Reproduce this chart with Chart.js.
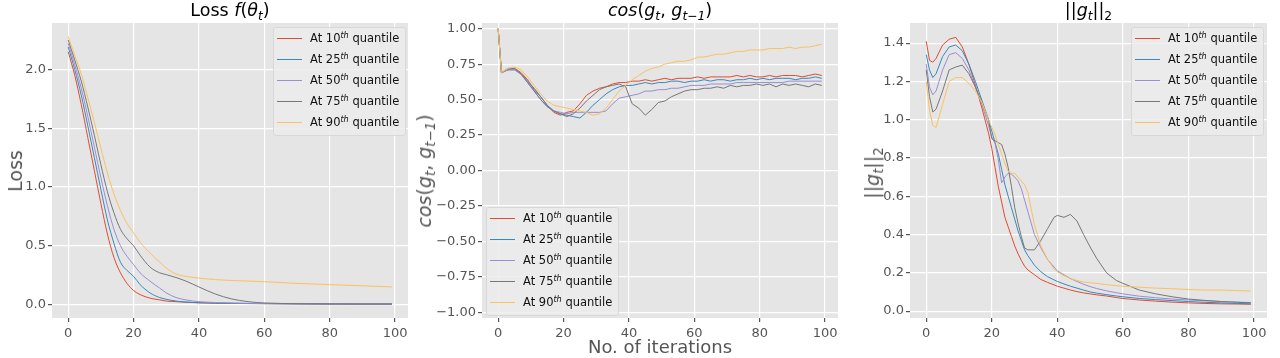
<!DOCTYPE html>
<html>
<head>
<meta charset="utf-8">
<script src="https://cdn.jsdelivr.net/npm/chart.js@4.4.1/dist/chart.umd.min.js"></script>
<style>
  body { margin: 0; background: #fff; font-family: "DejaVu Sans", sans-serif; }
  #wrap { position: relative; width: 1280px; height: 358px; overflow: hidden; }
  canvas { position: absolute; top: 0; }
  .title { position: absolute; top: 0px; text-align: center; font-size: 17.5px; color: #000; white-space: nowrap; }
  .ylab { position: absolute; font-size: 19px; color: #555; white-space: nowrap; transform: translate(-50%, -50%) rotate(-90deg); }
  .xlab { position: absolute; font-size: 18px; color: #555; white-space: nowrap; transform: translate(-50%, -50%); }
  sub { font-size: 0.7em; vertical-align: -0.3em; line-height: 0; }
  sup { font-size: 0.7em; vertical-align: 0.5em; line-height: 0; }
  .legend { position: absolute; background: rgba(236, 236, 236, 0.85); border: 1px solid #d8d8d8; border-radius: 3px;
            padding: 0 6px 2px 3px; font-size: 11.5px; color: #111; }
  .legend .row { height: 21px; line-height: 21px; white-space: nowrap; }
  .legend .swatch { display: inline-block; width: 25px; height: 0; border-top: 1.5px solid; vertical-align: middle; margin-right: 8px; }
</style>
</head>
<body>
<div id="wrap">
  <canvas id="lossChart" width="420" height="358" style="left:0px"></canvas>
  <canvas id="cosChart" width="420" height="358" style="left:430px"></canvas>
  <canvas id="normChart" width="420" height="358" style="left:860px"></canvas>

  <div class="title" style="left:52px;width:356px">Loss <i>f</i>(<i>θ<sub>t</sub></i>)</div>
  <div class="title" style="left:482px;width:356px"><i>cos</i>(<i>g<sub>t</sub></i>, <i>g<sub><i>t</i>−1</sub></i>)</div>
  <div class="title" style="left:910px;width:357px">||<i>g<sub>t</sub></i>||<sub>2</sub></div>

  <div class="ylab" style="left:15px;top:171px">Loss</div>
  <div class="ylab" style="left:424px;top:171px"><i>cos</i>(<i>g<sub>t</sub></i>, <i>g<sub><i>t</i>−1</sub></i>)</div>
  <div class="ylab" style="left:872px;top:173px">||<i>g<sub>t</sub></i>||<sub>2</sub></div>
  <div class="xlab" style="left:660px;top:346px">No. of iterations</div>

  <div class="legend" id="leg1" style="left:273px;top:27px"></div>
  <div class="legend" id="leg2" style="left:486px;top:207px"></div>
  <div class="legend" id="leg3" style="left:1131px;top:27px"></div>
</div>
<script>
const quantiles = [10, 25, 50, 75, 90];
const colors = ['#E24A33', '#348ABD', '#988ED5', '#777777', '#FBC15E'];

const xTicks = [0, 20, 40, 60, 80, 100];
const lossTicks = [0, 0.5, 1, 1.5, 2];
const cosTicks = [-1, -0.75, -0.5, -0.25, 0, 0.25, 0.5, 0.75, 1];
const normTicks = [0, 0.2, 0.4, 0.6, 0.8, 1, 1.2, 1.4];

// Loss f(theta_t)
const lossX = [0, 2, 4, 6, 8, 10, 12, 14, 16, 18, 20, 22, 25, 28, 30, 33, 36, 40, 45, 50, 55, 60, 70, 80, 90, 99];
const loss10 = [2.15, 1.95, 1.70, 1.42, 1.14, 0.86, 0.60, 0.40, 0.27, 0.18, 0.12, 0.085, 0.055, 0.04, 0.03, 0.025, 0.02, 0.015, 0.012, 0.01, 0.009, 0.008, 0.006, 0.005, 0.005, 0.005];
const loss25 = [2.19, 2.00, 1.78, 1.52, 1.25, 0.98, 0.72, 0.52, 0.36, 0.29, 0.24, 0.17, 0.10, 0.06, 0.045, 0.03, 0.022, 0.016, 0.012, 0.01, 0.009, 0.008, 0.006, 0.005, 0.005, 0.005];
const loss50 = [2.22, 2.04, 1.84, 1.60, 1.34, 1.08, 0.84, 0.64, 0.50, 0.41, 0.34, 0.27, 0.20, 0.14, 0.10, 0.06, 0.04, 0.025, 0.018, 0.014, 0.011, 0.009, 0.007, 0.005, 0.005, 0.005];
const loss75 = [2.25, 2.08, 1.90, 1.68, 1.44, 1.19, 0.96, 0.78, 0.64, 0.56, 0.50, 0.42, 0.32, 0.27, 0.255, 0.23, 0.20, 0.15, 0.09, 0.048, 0.025, 0.014, 0.008, 0.006, 0.005, 0.005];
const loss90 = [2.28, 2.12, 1.96, 1.76, 1.55, 1.33, 1.12, 0.94, 0.80, 0.69, 0.61, 0.53, 0.44, 0.36, 0.31, 0.26, 0.24, 0.225, 0.212, 0.205, 0.20, 0.195, 0.18, 0.17, 0.16, 0.15];

// cos(g_t, g_{t-1})
const cosX = [0, 1, 3, 5, 7, 9, 11, 13, 15, 17, 19, 21, 23, 25, 27, 29, 31, 33, 35, 37, 39, 41, 43, 45, 47, 49,
  51, 53, 55, 57, 59, 61, 63, 65, 67, 69, 71, 73, 75, 77, 79, 81, 83, 85, 87, 89, 91, 93, 95, 97, 99];
const cos10 = [1.0, 0.69, 0.71, 0.72, 0.69, 0.64, 0.57, 0.52, 0.46, 0.41, 0.39, 0.41, 0.42, 0.47, 0.53, 0.56, 0.58, 0.59, 0.61, 0.62, 0.62, 0.63, 0.63, 0.64, 0.63, 0.64,
  0.65, 0.64, 0.65, 0.65, 0.65, 0.66, 0.65, 0.66, 0.66, 0.66, 0.66, 0.67, 0.66, 0.67, 0.66, 0.66, 0.67, 0.66, 0.67, 0.67, 0.67, 0.66, 0.67, 0.68, 0.67];
const cos25 = [1.0, 0.69, 0.71, 0.71, 0.68, 0.63, 0.58, 0.52, 0.46, 0.42, 0.40, 0.39, 0.38, 0.37, 0.41, 0.46, 0.50, 0.54, 0.57, 0.59, 0.60, 0.60, 0.61, 0.62, 0.61, 0.62,
  0.62, 0.63, 0.63, 0.62, 0.63, 0.63, 0.64, 0.63, 0.64, 0.64, 0.63, 0.64, 0.64, 0.65, 0.64, 0.65, 0.64, 0.65, 0.65, 0.65, 0.64, 0.65, 0.65, 0.66, 0.65];
const cos50 = [1.0, 0.69, 0.71, 0.71, 0.68, 0.62, 0.56, 0.50, 0.45, 0.42, 0.41, 0.40, 0.41, 0.41, 0.41, 0.41, 0.41, 0.42, 0.47, 0.51, 0.52, 0.53, 0.54, 0.56, 0.56, 0.57,
  0.57, 0.58, 0.58, 0.59, 0.60, 0.60, 0.60, 0.61, 0.61, 0.61, 0.61, 0.62, 0.62, 0.62, 0.62, 0.62, 0.62, 0.62, 0.62, 0.63, 0.63, 0.63, 0.63, 0.63, 0.63];
const cos75 = [1.0, 0.69, 0.72, 0.72, 0.68, 0.62, 0.56, 0.50, 0.45, 0.42, 0.40, 0.38, 0.40, 0.44, 0.49, 0.53, 0.57, 0.59, 0.60, 0.61, 0.59, 0.47, 0.44, 0.39, 0.43, 0.48,
  0.49, 0.52, 0.54, 0.56, 0.57, 0.57, 0.58, 0.58, 0.59, 0.58, 0.60, 0.59, 0.60, 0.60, 0.61, 0.60, 0.61, 0.59, 0.61, 0.60, 0.61, 0.60, 0.59, 0.61, 0.60];
const cos90 = [1.0, 0.69, 0.72, 0.73, 0.71, 0.66, 0.60, 0.54, 0.49, 0.46, 0.45, 0.44, 0.43, 0.42, 0.41, 0.39, 0.40, 0.44, 0.50, 0.56, 0.60, 0.64, 0.67, 0.70, 0.72, 0.73,
  0.75, 0.76, 0.77, 0.77, 0.78, 0.80, 0.80, 0.81, 0.82, 0.82, 0.83, 0.84, 0.84, 0.85, 0.85, 0.85, 0.86, 0.86, 0.86, 0.87, 0.86, 0.87, 0.87, 0.88, 0.89];

// ||g_t||_2
const normX = [0, 1, 2, 3, 5, 7, 9, 11, 13, 15, 17, 19, 20, 21, 22, 23, 24, 25, 26, 27, 28, 29, 30, 31, 33, 35, 37, 39,
  40, 42, 44, 46, 48, 50, 52, 55, 58, 60, 65, 70, 75, 80, 85, 90, 95, 99];
const norm10 = [1.41, 1.31, 1.30, 1.32, 1.39, 1.42, 1.43, 1.38, 1.29, 1.18, 1.06, 0.93, 0.85, 0.75, 0.65, 0.57, 0.49, 0.44, 0.39, 0.34, 0.30, 0.265, 0.235, 0.215, 0.19, 0.165, 0.15, 0.137,
  0.13, 0.12, 0.11, 0.102, 0.095, 0.09, 0.085, 0.079, 0.071, 0.066, 0.058, 0.052, 0.047, 0.043, 0.04, 0.038, 0.037, 0.036];
const norm25 = [1.34, 1.26, 1.22, 1.24, 1.33, 1.38, 1.39, 1.36, 1.29, 1.20, 1.10, 1.00, 0.94, 0.88, 0.82, 0.74, 0.66, 0.60, 0.54, 0.48, 0.42, 0.37, 0.32, 0.29, 0.24, 0.205, 0.18, 0.163,
  0.155, 0.142, 0.13, 0.12, 0.11, 0.10, 0.094, 0.086, 0.079, 0.075, 0.066, 0.06, 0.055, 0.05, 0.046, 0.043, 0.04, 0.038];
const norm50 = [1.29, 1.17, 1.13, 1.15, 1.26, 1.34, 1.35, 1.32, 1.26, 1.17, 1.08, 0.97, 0.91, 0.875, 0.79, 0.67, 0.70, 0.72, 0.715, 0.70, 0.68, 0.64, 0.58, 0.52, 0.40, 0.33, 0.27, 0.23,
  0.21, 0.19, 0.17, 0.155, 0.14, 0.128, 0.118, 0.106, 0.096, 0.09, 0.078, 0.07, 0.063, 0.058, 0.054, 0.05, 0.047, 0.045];
const norm75 = [1.26, 1.12, 1.04, 1.055, 1.15, 1.26, 1.275, 1.285, 1.24, 1.17, 1.09, 1.00, 0.90, 0.89, 0.88, 0.87, 0.82, 0.75, 0.65, 0.54, 0.46, 0.39, 0.33, 0.32, 0.32, 0.37, 0.43, 0.49,
  0.50, 0.49, 0.505, 0.47, 0.40, 0.335, 0.275, 0.20, 0.16, 0.145, 0.11, 0.09, 0.075, 0.063, 0.056, 0.05, 0.046, 0.043];
const norm90 = [1.20, 1.05, 0.97, 0.96, 1.08, 1.20, 1.22, 1.22, 1.19, 1.15, 1.09, 1.00, 0.96, 0.92, 0.87, 0.82, 0.77, 0.73, 0.72, 0.72, 0.70, 0.68, 0.66, 0.62, 0.45, 0.34, 0.27, 0.22,
  0.205, 0.185, 0.17, 0.16, 0.152, 0.148, 0.145, 0.138, 0.133, 0.13, 0.125, 0.12, 0.117, 0.113, 0.11, 0.11, 0.107, 0.105];

const axesBg = {
  id: 'axesBg',
  beforeDraw(chart) {
    const { ctx, chartArea: a } = chart;
    ctx.save();
    ctx.fillStyle = '#E5E5E5';
    ctx.fillRect(a.left, a.top, a.right - a.left, a.bottom - a.top);
    ctx.restore();
  }
};

const tickFont = { family: 'DejaVu Sans', size: 13 };

function makeChart(id, xs, series, yMin, yMax, yTicks, fmt, yWidth, padRight, smooth) {
  const datasets = series.map((ys, k) => ({
    label: 'At ' + quantiles[k] + 'th quantile',
    data: xs.map((x, i) => ({ x: x, y: ys[i] })),
    borderColor: colors[k],
    borderWidth: 1,
    pointRadius: 0,
    fill: false,
    order: series.length - k,
    cubicInterpolationMode: smooth ? 'monotone' : 'default',
    tension: 0
  }));
  return new Chart(document.getElementById(id), {
    type: 'line',
    data: { datasets },
    options: {
      responsive: false,
      animation: false,
      layout: { padding: { top: 23, right: padRight, left: 0, bottom: 0 } },
      plugins: { legend: { display: false }, tooltip: { enabled: false } },
      scales: {
        x: {
          type: 'linear', min: -4.95, max: 103.95,
          afterBuildTicks: s => { s.ticks = xTicks.map(v => ({ value: v })); },
          afterFit: s => { s.height = 40; },
          grid: { color: '#fff', lineWidth: 1.2, tickColor: '#555', tickLength: 4 },
          border: { display: false },
          ticks: { color: '#555', font: tickFont, padding: 4, maxRotation: 0, callback: v => String(v) }
        },
        y: {
          type: 'linear', min: yMin, max: yMax,
          afterBuildTicks: s => { s.ticks = yTicks.map(v => ({ value: v })); },
          afterFit: s => { s.width = yWidth; },
          grid: { color: '#fff', lineWidth: 1.2, tickColor: '#555', tickLength: 4 },
          border: { display: false },
          ticks: { color: '#555', font: tickFont, padding: 2, callback: fmt }
        }
      }
    },
    plugins: [axesBg]
  });
}

function buildLegend(id) {
  const box = document.getElementById(id);
  box.innerHTML = quantiles.map((q, k) =>
    '<div class="row"><span class="swatch" style="border-top-color:' + colors[k] + '"></span>At ' + q +
    '<sup><i>th</i></sup> quantile</div>').join('');
}

const fmt1 = v => v.toFixed(1);
const fmt2 = v => (v < 0 ? '\u2212' : '') + Math.abs(v).toFixed(2);

makeChart('lossChart', lossX, [loss10, loss25, loss50, loss75, loss90], -0.114, 2.394, lossTicks, fmt1, 52, 12, true);
makeChart('cosChart', cosX, [cos10, cos25, cos50, cos75, cos90], -1.04, 1.04, cosTicks, fmt2, 52, 12, false);
makeChart('normChart', normX, [norm10, norm25, norm50, norm75, norm90], -0.036, 1.505, normTicks, fmt1, 50, 13, false);

buildLegend('leg1');
buildLegend('leg2');
buildLegend('leg3');
</script>
</body>
</html>
